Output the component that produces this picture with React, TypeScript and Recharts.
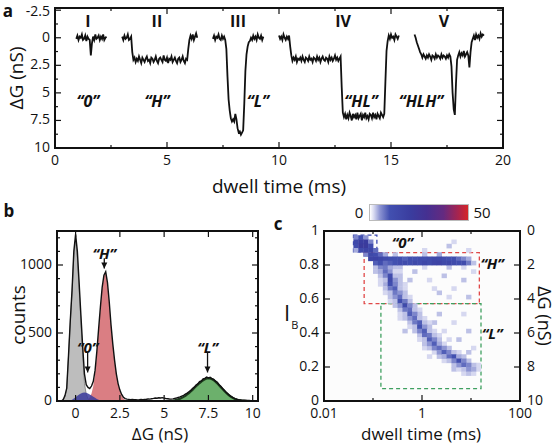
import React from 'react';
import {
  Area,
  ComposedChart,
  Line,
  ReferenceArea,
  ReferenceDot,
  ReferenceLine,
  Scatter,
  XAxis,
  YAxis,
} from 'recharts';

const FONT = '"Open Sans", "DejaVu Sans", sans-serif';
const INK = '#111';
const TICK_FONT = 14;

// ---------- a: five translocation events, ΔG (nS) sampled every 0.05 ms ----------
const TRACE_DT = 0.05;
const eventStart = [0.95, 3.0, 7.05, 10.0, 16.05];
const eventI = [0.1, -0.2, 0.2, -0.1, 0.0, -0.3, 0.2, 0.1, -0.2, 0.3, -0.1, 0.1, 0.2, 1.6, 0.5, -0.1, 0.2, -0.3, 0.1, 0.0, -0.2, 0.2, -0.1, 0.1, -0.3, 0.2, 0.0, -0.1];
const eventII = [
  -0.1, 0.2, -0.2, 0.1, 0.0, -0.3, 0.2, 0.1, -0.1, 1.3, 2.0,
  1.8, 2.2, 1.9, 2.1, 1.7, 2.0, 2.3, 1.8, 2.0, 2.2, 1.9, 1.7, 2.1, 2.0, 2.3, 1.8, 1.9, 2.2, 2.0, 1.7,
  2.1, 2.3, 1.9, 1.8, 2.0, 2.2, 1.6, 2.0, 2.1, 1.8, 2.3, 1.9, 2.0, 1.7, 2.2, 2.0, 1.8, 2.1, 2.3, 1.9,
  1.8, 2.2, 2.0, 1.7, 2.1, 2.3, 1.9, 2.0,
  1.0, 0.2, -0.2, 0.1, -0.3, 0.2, -0.1, -0.4, 0.0,
];
const eventIII = [
  0.1, -0.2, 0.2, -0.1, 0.0, -0.3, 0.1, 0.2, -0.2, 0.1, -0.1, 0.2,
  1.0, 3.5, 5.6, 6.6, 7.3, 7.6, 7.4, 7.6, 6.9, 7.4, 8.2, 8.6, 8.5, 8.8, 8.6, 8.4, 6.0, 3.0, 1.5, 0.8, 0.4,
  0.3, 0.0, 0.2, -0.2, 0.1, -0.1, 0.2, -0.3, 0.0, 0.1, -0.2, 0.2, -0.1,
];
const eventIV = [
  -0.2, 0.1, -0.1, 0.2, -0.3, 0.0, 0.2, -0.1, 0.1, -0.2, 0.8, 1.6,
  2.1, 1.8, 2.0, 1.7, 2.2, 1.9, 2.0, 1.8, 2.1, 1.7, 2.0, 2.2, 1.8, 1.9, 2.1, 1.7, 2.0, 1.9, 2.2, 1.8,
  1.9, 2.1, 1.7, 2.0, 1.8, 2.2, 1.9, 1.7, 2.0, 2.1, 1.8, 1.9, 2.2, 1.7, 2.0, 1.8, 2.1, 1.9, 1.6, 2.0,
  1.8, 2.1, 1.9, 1.7, 4.5, 6.8,
  7.2, 6.9, 7.4, 7.0, 7.3, 6.8, 7.1, 7.5, 6.9, 7.2, 7.0, 7.4, 6.8, 7.3, 7.1, 6.9, 7.5, 7.0, 7.2, 6.8,
  7.3, 7.1, 7.4, 6.9, 7.0, 7.3, 6.8, 7.2, 7.0, 7.4, 6.9, 7.1, 7.3, 6.8, 7.0, 7.2, 6.9,
  4.0, 1.2, 0.3, -0.2, 0.1, -0.3, 0.0, -0.1, 0.2, -0.3, -0.1, 0.1, -0.2,
];
const eventV = [
  -0.3, 0.0, 0.4, 0.7, 1.0, 1.3, 1.5,
  1.8, 1.5, 1.7, 1.9, 1.6, 1.8, 1.5, 1.7, 2.0, 1.6, 1.7, 1.9, 1.5, 1.8, 1.6, 1.7, 1.9, 1.5, 1.8, 1.6,
  1.7, 1.9, 1.6, 1.8, 1.5, 1.7,
  2.6, 5.0, 6.5, 7.0, 4.2, 2.0,
  1.6, 1.3, 1.7, 1.4, 1.6, 1.2, 1.7, 1.5, 1.3, 1.6, 2.7, 1.3, 0.4,
  0.1, -0.2, 0.2, -0.3, 0.0, -0.2, 0.1, -0.4, -0.1, -0.3, -0.2,
];
const eventTraces = [eventI, eventII, eventIII, eventIV, eventV];
const eventNames = ['I', 'II', 'III', 'IV', 'V'];
const eventNameAt = [1.47, 4.55, 8.17, 12.86, 17.36];
const eventCodes = ['“0”', '“H”', '“L”', '“HL”', '“HLH”'];
const eventCodeAt = [1.47, 4.55, 9.06, 13.66, 16.34];
const aTimeTicks = [0, 2.5, 5, 7.5, 10, 12.5, 15, 17.5, 20];
const aTimeLabels = [0, 5, 10, 15, 20];
const aGTicks = [-2.5, -1.25, 0, 1.25, 2.5, 3.75, 5, 6.25, 7.5, 8.75, 10];
const aGLabels = [-2.5, 0, 2.5, 5, 7.5, 10];

// ---------- b: ΔG histogram, bins of 0.1 nS ----------
const HIST_START = -0.8;
const HIST_STEP = 0.1;
const histTotal = [
  0, 10, 40, 95, 335, 590, 815, 1100, 1225, 1100,
  870, 630, 400, 200, 120, 100, 92, 110, 145, 225,
  365, 530, 690, 835, 925, 950, 870, 730, 560, 420,
  300, 200, 128, 80, 48, 28, 18, 14, 12, 10,
  11, 9, 10, 8, 9, 11, 10, 12, 13, 15,
  14, 17, 19, 22, 20, 24, 22, 25, 21, 18,
  17, 15, 14, 16, 19, 22, 26, 30, 36, 42,
  50, 58, 68, 78, 92, 102, 118, 126, 142, 148,
  162, 166, 176, 170, 174, 164, 160, 146, 138, 120,
  108, 92, 80, 64, 53, 41, 32, 24, 18, 13,
  10, 8, 6, 5, 5, 4, 4, 3, 3, 2,
  2,
];
const grayFrom = -0.8;
const grayCounts = [0, 8, 30, 90, 330, 580, 800, 1070, 1190, 1050, 820, 580, 340, 130, 50, 18, 5, 0];
const blueFrom = -0.4;
const blueCounts = [0, 4, 10, 18, 28, 38, 48, 56, 61, 62, 60, 55, 48, 40, 31, 23, 15, 9, 4, 1, 0];
const redFrom = 0.6;
const redCounts = [0, 10, 25, 55, 110, 200, 350, 520, 680, 830, 920, 950, 870, 730, 560, 420, 300, 200, 125, 75, 40, 18, 7, 0];
const greenFrom = 5.4;
const greenCounts = [
  0, 2, 5, 8, 12, 17, 23, 30, 38, 48, 58, 70, 82, 95, 108, 120, 132, 143, 152, 160,
  166, 168, 166, 161, 153, 142, 130, 116, 102, 88, 74, 61, 49, 38, 29, 21, 15, 10, 6, 4,
  2, 1, 0,
];
const bGTicks = [0, 2.5, 5, 7.5, 10];
const bCountTicks = [0, 100, 200, 300, 400, 500, 600, 700, 800, 900, 1000, 1100, 1200];
const bCountLabels = [0, 500, 1000];
const histNoteLabel = ['“0”', '“H”', '“L”'];
const histNoteG = [0.68, 1.62, 7.45];
const histNoteLabelAt = [398, 1090, 398];
const histNoteTail = [355, 1050, 355];
const histNoteTip = [210, 975, 210];

// ---------- c: event density, [log10 dwell time (ms), I_B, count], bins 0.1 dec x 0.025 ----------
const zeroCells = [
  [-1.4, 0.95, 6], [-1.3, 0.95, 10], [-1.2, 0.95, 5],
  [-1.4, 0.925, 14], [-1.3, 0.925, 20], [-1.2, 0.925, 21], [-1.1, 0.925, 6],
  [-1.4, 0.9, 12], [-1.3, 0.9, 22], [-1.2, 0.9, 22], [-1.1, 0.9, 12],
  [-1.4, 0.875, 4], [-1.3, 0.875, 13], [-1.2, 0.875, 16], [-1.1, 0.875, 15], [-1.0, 0.875, 8],
];
const hCells = [
  [-1.2, 0.85, 6], [-1.1, 0.85, 14], [-1.0, 0.85, 12], [-0.9, 0.85, 8], [-0.8, 0.85, 4], [-0.6, 0.85, 3], [0.0, 0.85, 3], [0.3, 0.85, 4],
  [-1.1, 0.825, 16], [-1.0, 0.825, 17], [-0.9, 0.825, 15], [-0.8, 0.825, 13], [-0.7, 0.825, 11], [-0.6, 0.825, 10],
  [-0.5, 0.825, 11], [-0.4, 0.825, 9], [-0.3, 0.825, 11], [-0.2, 0.825, 10], [-0.1, 0.825, 12], [0.0, 0.825, 11],
  [0.1, 0.825, 13], [0.2, 0.825, 15], [0.3, 0.825, 14], [0.4, 0.825, 12], [0.5, 0.825, 10], [0.6, 0.825, 11],
  [0.7, 0.825, 8], [0.8, 0.825, 6], [0.9, 0.825, 4],
  [-1.0, 0.8, 9], [-0.9, 0.8, 11], [-0.8, 0.8, 8], [-0.7, 0.8, 9], [-0.6, 0.8, 10], [-0.5, 0.8, 12], [-0.4, 0.8, 13],
  [-0.3, 0.8, 11], [-0.2, 0.8, 14], [-0.1, 0.8, 12], [0.0, 0.8, 15], [0.1, 0.8, 13], [0.2, 0.8, 16], [0.3, 0.8, 17],
  [0.4, 0.8, 14], [0.5, 0.8, 15], [0.6, 0.8, 13], [0.7, 0.8, 11], [0.8, 0.8, 12], [0.9, 0.8, 7], [1.0, 0.8, 3],
];
const lCells = [
  [-0.9, 0.775, 6], [-0.8, 0.775, 7], [-0.7, 0.775, 4],
  [-0.9, 0.75, 4], [-0.8, 0.75, 8], [-0.7, 0.75, 5], [-0.6, 0.75, 2],
  [-0.8, 0.725, 6], [-0.7, 0.725, 12], [-0.6, 0.725, 3],
  [-0.8, 0.7, 3], [-0.7, 0.7, 14], [-0.6, 0.7, 5],
  [-0.9, 0.675, 2], [-0.7, 0.675, 11], [-0.6, 0.675, 6],
  [-0.7, 0.65, 7], [-0.6, 0.65, 9], [-0.5, 0.65, 3],
  [-0.7, 0.625, 3], [-0.6, 0.625, 7], [-0.5, 0.625, 5],
  [-0.6, 0.6, 5], [-0.5, 0.6, 8], [-0.4, 0.6, 3],
  [-0.6, 0.575, 3], [-0.5, 0.575, 11], [-0.4, 0.575, 7],
  [-0.5, 0.55, 5], [-0.4, 0.55, 13], [-0.3, 0.55, 6],
  [-0.4, 0.525, 7], [-0.3, 0.525, 8], [-0.2, 0.525, 3],
  [-0.4, 0.5, 3], [-0.3, 0.5, 9], [-0.2, 0.5, 6],
  [-0.3, 0.475, 5], [-0.2, 0.475, 8], [-0.1, 0.475, 3],
  [-0.2, 0.45, 7], [-0.1, 0.45, 9], [0.0, 0.45, 3],
  [-0.2, 0.425, 3], [-0.1, 0.425, 10], [0.0, 0.425, 5],
  [-0.1, 0.4, 6], [0.0, 0.4, 9], [0.1, 0.4, 3],
  [0.0, 0.375, 8], [0.1, 0.375, 7], [0.2, 0.375, 3],
  [0.0, 0.35, 3], [0.1, 0.35, 9], [0.2, 0.35, 6],
  [0.1, 0.325, 5], [0.2, 0.325, 9], [0.3, 0.325, 4],
  [0.2, 0.3, 6], [0.3, 0.3, 8], [0.4, 0.3, 5],
  [0.3, 0.275, 5], [0.4, 0.275, 9], [0.5, 0.275, 6], [0.6, 0.275, 3],
  [0.4, 0.25, 4], [0.5, 0.25, 8], [0.6, 0.25, 10], [0.7, 0.25, 4],
  [0.5, 0.225, 3], [0.6, 0.225, 6], [0.7, 0.225, 11], [0.8, 0.225, 6],
  [0.7, 0.2, 5], [0.8, 0.2, 8], [0.9, 0.2, 6],
  [0.8, 0.175, 3], [0.9, 0.175, 5], [1.0, 0.175, 4],
];
// faint fringe on both sides of the "L" ridge
const lFringeCells = [
  [-0.6, 0.775, 3], [-0.5, 0.75, 2], [-0.9, 0.725, 3], [-0.5, 0.725, 3], [-0.9, 0.7, 2], [-0.5, 0.7, 3],
  [-0.8, 0.675, 4], [-0.5, 0.675, 3], [-0.8, 0.65, 3], [-0.4, 0.65, 2], [-0.8, 0.625, 2], [-0.4, 0.625, 3],
  [-0.7, 0.6, 3], [-0.3, 0.6, 2], [-0.7, 0.575, 2], [-0.3, 0.575, 3], [-0.6, 0.55, 3], [-0.2, 0.55, 3],
  [-0.5, 0.525, 3], [-0.1, 0.525, 2], [-0.5, 0.5, 2], [-0.1, 0.5, 3], [-0.4, 0.475, 3], [0.0, 0.475, 2],
  [-0.3, 0.45, 3], [0.1, 0.45, 2], [-0.3, 0.425, 2], [0.1, 0.425, 3], [-0.2, 0.4, 3], [0.2, 0.4, 2],
  [-0.1, 0.375, 3], [0.3, 0.375, 2], [-0.1, 0.35, 2], [0.3, 0.35, 3], [0.0, 0.325, 3], [0.4, 0.325, 2],
  [0.1, 0.3, 3], [0.5, 0.3, 3], [0.2, 0.275, 2], [0.7, 0.275, 2], [0.3, 0.25, 3], [0.8, 0.25, 3],
  [0.4, 0.225, 2], [0.9, 0.225, 3], [0.6, 0.2, 3], [1.0, 0.2, 3], [0.7, 0.175, 2], [1.1, 0.175, 2],
  [0.8, 0.15, 2], [0.9, 0.15, 3], [1.0, 0.15, 2],
];
const sparseCells = [
  [-1.0, 0.775, 3], [-0.5, 0.775, 3], [0.0, 0.775, 2], [0.5, 0.775, 3], [0.8, 0.775, 2],
  [-0.2, 0.75, 3], [0.1, 0.7, 2], [0.4, 0.725, 3], [0.6, 0.65, 2], [0.8, 0.7, 3], [1.0, 0.75, 2],
  [0.3, 0.625, 3], [0.5, 0.6, 2], [0.9, 0.6, 3], [-0.4, 0.675, 2], [-0.3, 0.7, 3], [0.2, 0.65, 2],
  [0.3, 0.5, 3], [0.6, 0.45, 2], [0.9, 0.4, 3], [0.4, 0.4, 2], [0.7, 0.35, 3], [1.0, 0.3, 2],
  [0.8, 0.5, 2], [0.2, 0.45, 3], [0.5, 0.35, 2], [0.9, 0.275, 3], [1.1, 0.2, 2], [-0.5, 0.475, 2],
  [-0.4, 0.4, 3], [0.1, 0.25, 2], [0.0, 0.3, 2], [0.6, 0.175, 3],
  [0.0, 0.875, 2], [0.5, 0.9, 3], [0.9, 0.875, 2], [0.6, 0.925, 2],
  [-1.0, 0.75, 3], [-0.9, 0.725, 2],
];
const cTimeTicks = [0.01, 0.1, 1, 10, 100];
const cTimeLabels = [0.01, 1, 100];
const cIbTicks = [0, 0.2, 0.4, 0.6, 0.8, 1];
const cGTicks = [0, 2, 4, 6, 8, 10];
const boxZero = { t1: 0.04, t2: 0.12, ib1: 0.878, ib2: 0.976 };
const boxH = { t1: 0.066, t2: 14.8, ib1: 0.573, ib2: 0.873 };
const boxL = { t1: 0.145, t2: 16, ib1: 0.073, ib2: 0.573 };
const COUNT_MAX = 50;

// ---------- derived tables ----------
const traceRows = eventTraces.flatMap((vals, k) => {
  const rows: { t: number; g: number | null }[] = vals.map((g, i) => ({
    t: +(eventStart[k] + i * TRACE_DT).toFixed(3),
    g,
  }));
  rows.push({ t: +(eventStart[k] + vals.length * TRACE_DT).toFixed(3), g: null });
  return rows;
});

const pick = (g: number, from: number, counts: number[]) => {
  const i = Math.round((g - from) / HIST_STEP);
  return i >= 0 && i < counts.length ? counts[i] : null;
};
const histRows = histTotal.map((total, i) => {
  const g = +(HIST_START + i * HIST_STEP).toFixed(2);
  return {
    g,
    total,
    gray: pick(g, grayFrom, grayCounts),
    blue: pick(g, blueFrom, blueCounts),
    red: pick(g, redFrom, redCounts),
    green: pick(g, greenFrom, greenCounts),
  };
});

const heatRows = [...sparseCells, ...lFringeCells, ...lCells, ...hCells, ...zeroCells].map(([lt, ib, n]) => ({
  t: Math.pow(10, lt),
  ib,
  n,
}));

// ---------- styling helpers ----------
const HEAT_STOPS: [number, number[]][] = [
  [0, [255, 255, 255]],
  [0.04, [214, 216, 240]],
  [0.1, [140, 148, 210]],
  [0.2, [66, 80, 176]],
  [0.42, [58, 60, 158]],
  [0.58, [69, 48, 145]],
  [0.75, [100, 42, 128]],
  [0.9, [168, 36, 78]],
  [1, [214, 38, 40]],
];
function heatColor(n: number) {
  const f = Math.max(0, Math.min(1, n / COUNT_MAX));
  for (let i = 1; i < HEAT_STOPS.length; i++) {
    const [p1, c1] = HEAT_STOPS[i];
    const [p0, c0] = HEAT_STOPS[i - 1];
    if (f <= p1) {
      const u = (f - p0) / (p1 - p0);
      const c = c0.map((v, j) => Math.round(v + (c1[j] - v) * u));
      return `rgb(${c[0]},${c[1]},${c[2]})`;
    }
  }
  return 'rgb(214,38,40)';
}
const heatGradient = `linear-gradient(to right, ${HEAT_STOPS.map(
  ([p, c]) => `rgb(${c[0]},${c[1]},${c[2]}) ${p * 100}%`
).join(', ')})`;

const GAP = 5;
const near = (list: number[], v: number) => list.some((m) => Math.abs(m - v) < 1e-9);

// inward ticks on both sides of the frame, labels only on major values
function frameTick(
  side: 'bottom' | 'left' | 'right',
  span: number,
  labels: number[],
  opts: { lines?: boolean } = {}
) {
  const { lines = true } = opts;
  return (p: any) => {
    const v = p.payload.value;
    const major = near(labels, v);
    const len = major ? 6 : 3;
    if (side === 'bottom') {
      const ay = p.y - GAP;
      return (
        <g>
          {lines && <line x1={p.x} x2={p.x} y1={ay} y2={ay - len} stroke={INK} strokeWidth={1.2} />}
          {lines && <line x1={p.x} x2={p.x} y1={ay - span} y2={ay - span + len} stroke={INK} strokeWidth={1.2} />}
          {major && (
            <text x={p.x} y={ay + 17} textAnchor="middle" fontSize={TICK_FONT} fontFamily={FONT} fill={INK}>
              {String(v)}
            </text>
          )}
        </g>
      );
    }
    if (side === 'left') {
      const ax = p.x + GAP;
      return (
        <g>
          {lines && <line x1={ax} x2={ax + len} y1={p.y} y2={p.y} stroke={INK} strokeWidth={1.2} />}
          {lines && <line x1={ax + span} x2={ax + span - len} y1={p.y} y2={p.y} stroke={INK} strokeWidth={1.2} />}
          {major && (
            <text x={ax - 5} y={Math.max(p.y + 4, 16)} textAnchor="end" fontSize={TICK_FONT} fontFamily={FONT} fill={INK}>
              {String(v)}
            </text>
          )}
        </g>
      );
    }
    const ax = p.x - GAP;
    return (
      <text x={ax + 7} y={p.y + 4} textAnchor="start" fontSize={TICK_FONT} fontFamily={FONT} fill={INK}>
        {String(v)}
      </text>
    );
  };
}

const noteText = (text: string, size: number, italic: boolean) => (p: any) =>
  (
    <text
      x={p.cx}
      y={p.cy}
      textAnchor="middle"
      dominantBaseline="central"
      fontSize={size}
      fontWeight={700}
      fontStyle={italic ? 'italic' : 'normal'}
      fontFamily={FONT}
      fill={INK}
    >
      {text}
    </text>
  );

const arrowHead = (p: any) => (
  <polygon points={`${p.cx - 3},${p.cy - 6} ${p.cx + 3},${p.cy - 6} ${p.cx},${p.cy}`} fill={INK} />
);

const C_PLOT_W = 196;
const C_PLOT_H = 170;
const CELL_W = (C_PLOT_W * 0.1) / 4;
const CELL_H = C_PLOT_H * 0.025;
const HeatCell = (p: any) => (
  <rect
    x={p.cx}
    y={p.cy - CELL_H}
    width={CELL_W + 0.4}
    height={CELL_H + 0.4}
    fill={heatColor(p.payload.n)}
  />
);

function Txt(props: {
  x: number;
  y: number;
  size: number;
  rotate?: number;
  weight?: number;
  children: React.ReactNode;
}) {
  const { x, y, size, rotate = 0, weight = 400, children } = props;
  return (
    <div
      style={{
        position: 'absolute',
        left: x,
        top: y,
        transform: `translate(-50%, -50%) rotate(${rotate}deg)`,
        fontSize: size,
        fontWeight: weight,
        whiteSpace: 'nowrap',
        lineHeight: 1,
        fontFamily: FONT,
        color: INK,
      }}
    >
      {children}
    </div>
  );
}

function TracePanel() {
  return (
    <div style={{ position: 'absolute', left: 0, top: 0 }}>
      <ComposedChart width={558} height={200} data={traceRows} margin={{ top: 8, right: 55, bottom: 12, left: 5 }}>
        <XAxis
          dataKey="t"
          type="number"
          domain={[0, 20]}
          allowDataOverflow
          ticks={aTimeTicks}
          interval={0}
          tickLine={false}
          tickSize={0}
          tickMargin={GAP}
          axisLine={false}
          height={40}
          tick={frameTick('bottom', 140, aTimeLabels)}
        />
        <YAxis
          type="number"
          domain={[-2.7, 10]}
          reversed
          allowDataOverflow
          ticks={aGTicks}
          interval={0}
          tickLine={false}
          tickSize={0}
          tickMargin={GAP}
          axisLine={false}
          width={50}
          tick={frameTick('left', 448, aGLabels)}
        />
        <Line
          dataKey="g"
          type="linear"
          stroke={INK}
          strokeWidth={1.8}
          dot={false}
          connectNulls={false}
          isAnimationActive={false}
        />
        <ReferenceArea x1={0} x2={20} y1={-2.7} y2={10} fill="none" stroke={INK} strokeWidth={2} ifOverflow="visible" />
        {eventNames.map((name, i) => (
          <ReferenceDot key={name} x={eventNameAt[i]} y={-1.55} r={0} ifOverflow="visible" shape={noteText(name, 16, false)} />
        ))}
        {eventCodes.map((code, i) => (
          <ReferenceDot key={code} x={eventCodeAt[i]} y={5.75} r={0} ifOverflow="visible" shape={noteText(code, 16, true)} />
        ))}
      </ComposedChart>
    </div>
  );
}

function HistPanel() {
  return (
    <div style={{ position: 'absolute', left: 0, top: 200 }}>
      <ComposedChart width={270} height={244} data={histRows} margin={{ top: 31, right: 12, bottom: 13, left: 12 }}>
        <XAxis
          dataKey="g"
          type="number"
          domain={[-1.05, 10.3]}
          allowDataOverflow
          ticks={bGTicks}
          interval={0}
          tickLine={false}
          tickSize={0}
          tickMargin={GAP}
          axisLine={false}
          height={30}
          tick={frameTick('bottom', 170, bGTicks)}
        />
        <YAxis
          type="number"
          domain={[0, 1250]}
          allowDataOverflow
          ticks={bCountTicks}
          interval={0}
          tickLine={false}
          tickSize={0}
          tickMargin={GAP}
          axisLine={false}
          width={45}
          tick={frameTick('left', 201, bCountLabels)}
        />
        <Area dataKey="gray" type="linear" baseValue={0} stroke="#7a7a7a" strokeWidth={0.8} fill="#bdbdbd" fillOpacity={1} isAnimationActive={false} />
        <Area dataKey="red" type="linear" baseValue={0} stroke="none" fill="#d8777c" fillOpacity={0.95} isAnimationActive={false} />
        <Area dataKey="green" type="linear" baseValue={0} stroke="#1d3d1d" strokeWidth={2.2} fill="#6cb06c" fillOpacity={1} isAnimationActive={false} />
        <Area dataKey="blue" type="linear" baseValue={0} stroke="none" fill="#3a3a9c" fillOpacity={0.85} isAnimationActive={false} />
        <Line dataKey="total" type="linear" stroke={INK} strokeWidth={1.4} dot={false} isAnimationActive={false} />
        <ReferenceArea x1={-1.05} x2={10.3} y1={0} y2={1250} fill="none" stroke={INK} strokeWidth={2} ifOverflow="visible" />
        {histNoteLabel.map((label, i) => (
          <ReferenceDot key={'t' + i} x={histNoteG[i]} y={histNoteLabelAt[i]} r={0} ifOverflow="visible" shape={noteText(label, 15, true)} />
        ))}
        {histNoteLabel.map((label, i) => (
          <ReferenceLine
            key={'s' + i}
            segment={[
              { x: histNoteG[i], y: histNoteTail[i] },
              { x: histNoteG[i], y: histNoteTip[i] },
            ]}
            stroke={INK}
            strokeWidth={1.3}
            ifOverflow="visible"
          />
        ))}
        {histNoteLabel.map((label, i) => (
          <ReferenceDot key={'h' + i} x={histNoteG[i]} y={histNoteTip[i]} r={0} ifOverflow="visible" shape={arrowHead} />
        ))}
      </ComposedChart>
    </div>
  );
}

function HeatPanel() {
  return (
    <div style={{ position: 'absolute', left: 270, top: 200 }}>
      <ComposedChart width={288} height={244} margin={{ top: 31, right: 13, bottom: 13, left: 14 }}>
        <XAxis
          dataKey="t"
          type="number"
          scale="log"
          domain={[0.01, 100]}
          allowDataOverflow
          ticks={cTimeTicks}
          interval={0}
          tickLine={false}
          tickSize={0}
          tickMargin={GAP}
          axisLine={false}
          height={30}
          tick={frameTick('bottom', C_PLOT_H, cTimeLabels)}
        />
        <YAxis
          dataKey="ib"
          type="number"
          domain={[0, 1]}
          allowDataOverflow
          ticks={cIbTicks}
          interval={0}
          tickLine={false}
          tickSize={0}
          tickMargin={GAP}
          axisLine={false}
          width={40}
          tick={frameTick('left', C_PLOT_W, cIbTicks)}
        />
        <YAxis
          yAxisId="dg"
          orientation="right"
          type="number"
          domain={[0, 10]}
          reversed
          allowDataOverflow
          ticks={cGTicks}
          interval={0}
          tickLine={false}
          tickSize={0}
          tickMargin={GAP}
          axisLine={false}
          width={25}
          tick={frameTick('right', C_PLOT_W, cGTicks, { lines: false })}
        />
        <ReferenceArea x1={0.01} x2={100} y1={0} y2={1} fill="#fafafa" stroke="none" ifOverflow="visible" />
        <Scatter data={heatRows} shape={HeatCell} isAnimationActive={false} />
        <ReferenceArea x1={boxZero.t1} x2={boxZero.t2} y1={boxZero.ib1} y2={boxZero.ib2} fill="none" stroke="#3a48b0" strokeWidth={1.3} strokeDasharray="4 3" ifOverflow="visible" />
        <ReferenceArea x1={boxH.t1} x2={boxH.t2} y1={boxH.ib1} y2={boxH.ib2} fill="none" stroke="#e04848" strokeWidth={1.3} strokeDasharray="4 3" ifOverflow="visible" />
        <ReferenceArea x1={boxL.t1} x2={boxL.t2} y1={boxL.ib1} y2={boxL.ib2} fill="none" stroke="#3fa060" strokeWidth={1.3} strokeDasharray="4 3" ifOverflow="visible" />
        <ReferenceArea x1={0.01} x2={100} y1={0} y2={1} fill="none" stroke={INK} strokeWidth={2} ifOverflow="visible" />
        <ReferenceDot x={0.4} y={0.935} r={0} ifOverflow="visible" shape={noteText('“0”', 15, true)} />
        <ReferenceDot x={27} y={0.81} r={0} ifOverflow="visible" shape={noteText('“H”', 15, true)} />
        <ReferenceDot x={27} y={0.4} r={0} ifOverflow="visible" shape={noteText('“L”', 15, true)} />
      </ComposedChart>
    </div>
  );
}

export default function App() {
  return (
    <div
      style={{
        position: 'absolute',
        left: 0,
        top: 0,
        width: 558,
        height: 444,
        background: '#fff',
        overflow: 'hidden',
        fontFamily: FONT,
      }}
    >
      <TracePanel />
      <HistPanel />
      <HeatPanel />

      {/* panel letters and axis titles */}
      <Txt x={8} y={10} size={17} weight={700}>a</Txt>
      <Txt x={9} y={210} size={17} weight={700}>b</Txt>
      <Txt x={278} y={223} size={17} weight={700}>c</Txt>
      <Txt x={279} y={186} size={19}>dwell time (ms)</Txt>
      <Txt x={16} y={78} size={19} rotate={-90}>ΔG (nS)</Txt>
      <Txt x={160} y={433} size={17}>ΔG (nS)</Txt>
      <Txt x={18} y={315} size={19} rotate={-90}>counts</Txt>
      <Txt x={421} y={433} size={17}>dwell time (ms)</Txt>
      <Txt x={545} y={316} size={18} rotate={90}>ΔG (nS)</Txt>
      <div style={{ position: 'absolute', left: 284, top: 301, fontFamily: FONT, fontSize: 22, lineHeight: 1, color: INK }}>
        I<span style={{ fontSize: 11, position: 'relative', top: 8, left: 1 }}>B</span>
      </div>

      {/* colour scale */}
      <div
        style={{
          position: 'absolute',
          left: 369,
          top: 204,
          width: 100,
          height: 17,
          background: heatGradient,
          border: '1px solid #bbb',
          boxSizing: 'border-box',
        }}
      />
      <Txt x={359} y={212} size={15}>0</Txt>
      <Txt x={482} y={212} size={15}>50</Txt>
    </div>
  );
}
